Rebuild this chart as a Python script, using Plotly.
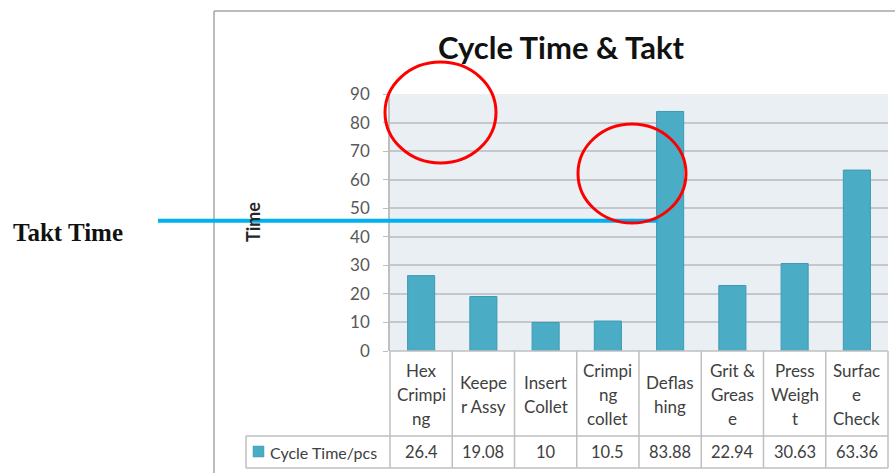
import plotly.graph_objects as go

# ---- data ----
categories = ["Hex Crimping", "Keeper Assy", "Insert Collet", "Crimping collet",
              "Deflashing", "Grit & Grease", "Press Weight", "Surface Check"]
category_labels = ["Hex<br>Crimpi<br>ng", "Keepe<br>r Assy", "Insert<br>Collet",
                   "Crimpi<br>ng<br>collet", "Deflas<br>hing", "Grit &<br>Greas<br>e",
                   "Press<br>Weigh<br>t", "Surfac<br>e<br>Check"]
cycle_time = [26.4, 19.08, 10, 10.5, 83.88, 22.94, 30.63, 63.36]
value_labels = ["26.4", "19.08", "10", "10.5", "83.88", "22.94", "30.63", "63.36"]
series_name = "Cycle Time/pcs"
takt_time = 45.6
y_ticks = [0, 10, 20, 30, 40, 50, 60, 70, 80, 90]

# ---- layout constants (pixels) ----
W, H = 895, 473
L, R, T, B = 390, 888, 94, 351
PW, PH = R - L, B - T

def px(x):
    return (x - L) / PW

def py(y):
    return (B - y) / PH

BAR = "#4bacc6"
GRID = "#c4c8cc"
TBL = "#bfbfbf"
TXT = "#404040"
FONT = "Lato"

fig = go.Figure()
fig.add_trace(go.Bar(
    x=categories, y=cycle_time, name=series_name,
    marker=dict(color=BAR, line=dict(color="#3e9ab3", width=1)),
    showlegend=False, hoverinfo="skip",
))

shapes = []
annotations = []

# outer chart frame
shapes.append(dict(type="line", xref="paper", yref="paper",
                   x0=px(214), x1=px(W + 20), y0=py(11), y1=py(11),
                   line=dict(color="#a6a6a6", width=1.5)))
shapes.append(dict(type="line", xref="paper", yref="paper",
                   x0=px(214), x1=px(214), y0=py(11), y1=py(H + 20),
                   line=dict(color="#a6a6a6", width=1.5)))

# data table lines
ncat = len(categories)
colw = PW / ncat
shapes.append(dict(type="line", xref="paper", yref="paper",
                   x0=0, x1=1, y0=0, y1=0, line=dict(color=TBL, width=1.5)))
for yy in (436, 468):
    shapes.append(dict(type="line", xref="paper", yref="paper",
                       x0=px(246), x1=1, y0=py(yy), y1=py(yy),
                       line=dict(color=TBL, width=1.5)))
for i in range(ncat + 1):
    xx = L + i * colw
    shapes.append(dict(type="line", xref="paper", yref="paper",
                       x0=px(xx), x1=px(xx), y0=0, y1=py(468),
                       line=dict(color=TBL, width=1.5)))
shapes.append(dict(type="line", xref="paper", yref="paper",
                   x0=px(246), x1=px(246), y0=py(436), y1=py(468),
                   line=dict(color=TBL, width=1.5)))
# legend key
shapes.append(dict(type="rect", xref="paper", yref="paper",
                   x0=px(253), x1=px(264), y0=py(457), y1=py(446),
                   fillcolor=BAR, line=dict(color="#3e9ab3", width=0.5)))

# takt time line
shapes.append(dict(type="line", xref="paper", yref="y",
                   x0=px(158), x1=px(658), y0=takt_time, y1=takt_time,
                   line=dict(color="#00b0f0", width=4), layer="above"))

# red circles
shapes.append(dict(type="circle", xref="paper", yref="paper",
                   x0=px(385), x1=px(496), y0=py(163), y1=py(62),
                   line=dict(color="#ff0000", width=3)))
shapes.append(dict(type="circle", xref="paper", yref="paper",
                   x0=px(578), x1=px(686), y0=py(223), y1=py(124),
                   line=dict(color="#ff0000", width=3)))

# category labels (table header row)
for i, lab in enumerate(category_labels):
    lines = lab.split("<br>")
    n = len(lines)
    cx = L + (i + 0.5) * colw
    for j, ln in enumerate(lines):
        yy = 394 + (j - (n - 1) / 2) * 24
        annotations.append(dict(xref="paper", yref="paper", x=px(cx), y=py(yy),
                                text=ln, showarrow=False, xanchor="center",
                                yanchor="middle",
                                font=dict(family=FONT, size=17, color=TXT)))
# values row
for i, v in enumerate(value_labels):
    cx = L + (i + 0.5) * colw
    annotations.append(dict(xref="paper", yref="paper", x=px(cx), y=py(452),
                            text=v, showarrow=False, xanchor="center",
                            yanchor="middle",
                            font=dict(family=FONT, size=16.5, color=TXT)))
annotations.append(dict(xref="paper", yref="paper", x=px(268), y=py(452),
                        text=series_name, showarrow=False, xanchor="left",
                        yanchor="middle",
                        font=dict(family=FONT, size=16, color=TXT)))

# y-axis title
annotations.append(dict(xref="paper", yref="paper", x=px(253), y=py(222),
                        text="<b>Time</b>", showarrow=False, textangle=-90,
                        xanchor="center", yanchor="middle",
                        font=dict(family=FONT, size=18, color="#262626")))
# Takt Time label
annotations.append(dict(xref="paper", yref="paper", x=px(11), y=py(232),
                        text="<b>Takt Time</b>", showarrow=False,
                        xanchor="left", yanchor="middle",
                        font=dict(family="Liberation Serif", size=25, color="#111111")))

fig.update_layout(
    width=W, height=H,
    margin=dict(l=L, r=W - R, t=T, b=H - B),
    paper_bgcolor="white",
    plot_bgcolor="#e9eff3",
    bargap=0.565,
    title=dict(text="<b>Cycle Time &amp; Takt</b>", x=561 / W, xanchor="center",
               y=1 - 48 / H, yanchor="middle",
               font=dict(family=FONT, size=31, color="#111111")),
    xaxis=dict(range=[-0.5, ncat - 0.5], showticklabels=False, showgrid=False,
               zeroline=False, fixedrange=True),
    yaxis=dict(range=[0, 90], tickvals=y_ticks, showgrid=True, gridcolor=GRID,
               gridwidth=2, zeroline=False, showline=True, linecolor=TBL,
               linewidth=1.5, ticks="outside", ticklen=5, tickcolor=TBL,
               tickfont=dict(family=FONT, size=17, color="#595959"),
               ticklabelstandoff=10, fixedrange=True),
    shapes=shapes,
    annotations=annotations,
    showlegend=False,
)

fig.write_html("out.html", config={"displayModeBar": False},
               post_script="document.body.style.margin='0';document.body.style.overflow='hidden';")
